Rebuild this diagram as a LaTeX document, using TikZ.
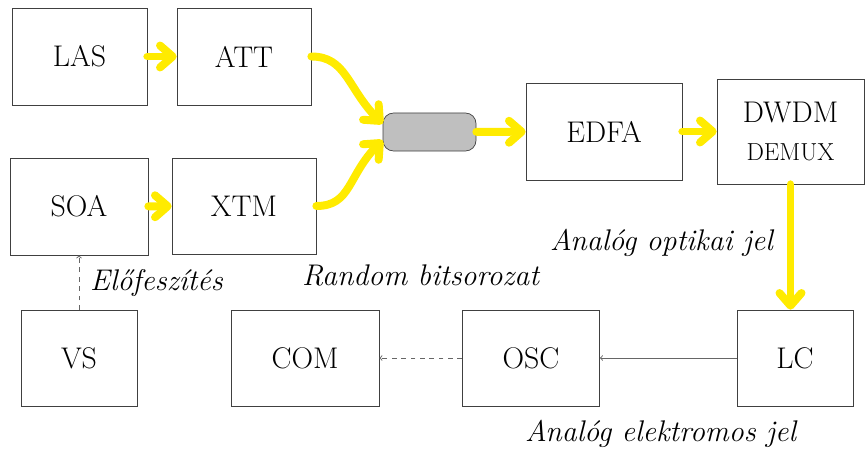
\documentclass[tikz,border=0pt]{standalone}
\usepackage{fontspec}
\usetikzlibrary{arrows.meta}
\definecolor{sigyellow}{RGB}{255,235,0}

\begin{document}
\begin{tikzpicture}[x=0.03cm, y=-0.03cm,
    font=\rmfamily\fontsize{25.5}{30}\selectfont,
    blk/.style={draw=black!75, line width=0.6pt, inner sep=0pt, minimum height=2.91cm},
    optic/.style={sigyellow, line width=6.8pt, line cap=round, -{Straight Barb[length=3.8mm,width=6.6mm,round]}},
    elec/.style={draw=black!60, line width=0.8pt, -to},
    lbl/.style={font=\rmfamily\itshape\fontsize{25.5}{30}\selectfont, inner sep=0pt, anchor=base west}]
    \useasboundingbox (0,0) rectangle (867,454);

    % Transmitter side
    \node[blk, minimum width=4.05cm] (las) at (79.5,56.5) {LAS};
    \node[blk, minimum width=4.02cm] (att) at (244,56.5) {ATT};
    \node[blk, minimum width=4.14cm] (soa) at (79,206.5) {SOA};
    \node[blk, minimum width=4.32cm, minimum height=2.88cm] (xtm) at (244,206) {XTM};
    \node[draw=black!75, fill=black!25, line width=0.6pt, rounded corners=9pt,
          minimum width=2.79cm, minimum height=1.14cm] (cpl) at (429.5,132) {};
    \node[blk, minimum width=4.68cm] (edfa) at (604,131.5) {EDFA};
    \node[blk, minimum width=4.41cm, minimum height=3.15cm, align=center] (dwdm) at (790.5,131.5)
        {DWDM\\[3pt]{\fontsize{21}{25}\selectfont DEMUX}};

    % Receiver side
    \node[blk, minimum width=3.48cm, minimum height=2.88cm] (vs) at (79,358) {VS};
    \node[blk, minimum width=4.44cm, minimum height=2.88cm] (com) at (305,358) {COM};
    \node[blk, minimum width=4.11cm, minimum height=2.88cm] (osc) at (531,358) {OSC};
    \node[blk, minimum width=3.48cm, minimum height=2.88cm] (lc) at (795,358) {LC};

    % Optical path
    \draw[optic] (las) -- (att);
    \draw[optic] (soa) -- (xtm);
    \draw[optic] (att.east) .. controls +(35,0) and +(-35,-35) .. (cpl.170);
    \draw[optic] (xtm.east) .. controls +(35,0) and +(-35,35) .. (cpl.190);
    \draw[optic] (cpl) -- (edfa);
    \draw[optic] (edfa) -- (dwdm);
    \draw[optic] (dwdm) -- (dwdm.south |- lc.north);

    % Electrical path
    \draw[elec, dash pattern=on 4pt off 4pt] (vs) -- (soa);
    \draw[elec] (lc) -- (osc);
    \draw[elec, dash pattern=on 4pt off 4pt] (osc) -- (com);

    % Labels
    \node[lbl] (bias) at (90,290) {Előfeszítés};
    \node[lbl] (rnd) at (302,285) {Random bitsorozat};
    \node[lbl] (optsig) at (550,250) {Analóg optikai jel};
    \node[lbl] (elsig) at (525,441) {Analóg elektromos jel};
\end{tikzpicture}
\end{document}
